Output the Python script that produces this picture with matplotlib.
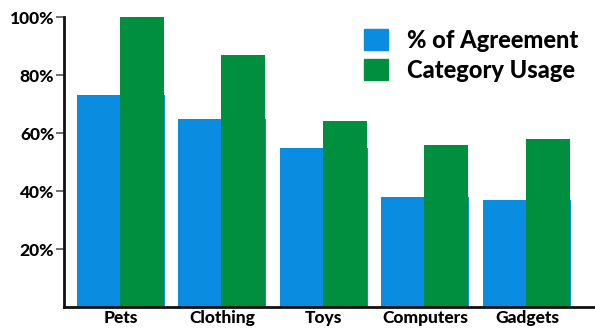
import matplotlib
matplotlib.use("Agg")
import matplotlib.pyplot as plt
from matplotlib.patches import Patch
import numpy as np

categories = ["Pets", "Clothing", "Toys", "Computers", "Gadgets"]
agreement = [73, 65, 55, 38, 37]
usage = [100, 87, 64, 56, 58]
yticks = [20, 40, 60, 80, 100]
ytick_labels = ["20%", "40%", "60%", "80%", "100%"]

blue = "#0A8CE0"
green = "#008F3E"

plt.rcParams['font.family'] = ['Lato', 'DejaVu Sans']

fig = plt.figure(figsize=(5.95, 3.28), dpi=100)
ax = fig.add_axes([64/595, 21/328, 1 - 64/595, 290/328])

x = np.arange(len(categories))
w = 0.867
ax.bar(x, agreement, width=w, color=blue, align='center')
ax.bar(x - 0.01, usage, width=w/2, color=green, align='edge')

ax.set_xlim(-0.56, 4.67)
ax.set_ylim(0, 100)
ax.set_yticks(yticks)
ax.set_yticklabels(ytick_labels, fontsize=12.5, fontweight=900)
ax.set_xticks(x)
ax.set_xticklabels(categories, fontsize=12.5, fontweight=900)
ax.tick_params(axis='x', length=0, pad=2)
ax.tick_params(axis='y', length=6, width=1.2, color='#555555', pad=1)
for s in ['top', 'right']:
    ax.spines[s].set_visible(False)
for s in ['left', 'bottom']:
    ax.spines[s].set_linewidth(2)
    ax.spines[s].set_color('#111111')

handles = [Patch(color=blue, label="% of Agreement"), Patch(color=green, label="Category Usage")]
fig.legend(handles=handles, loc='upper right', bbox_to_anchor=(0.995, 0.955), frameon=False,
           prop={'size': 17, 'weight': 900}, handlelength=1.0, handleheight=1.0,
           handletextpad=0.8, labelspacing=0.3, borderaxespad=0.2)

fig.savefig("out.png", dpi=100)
